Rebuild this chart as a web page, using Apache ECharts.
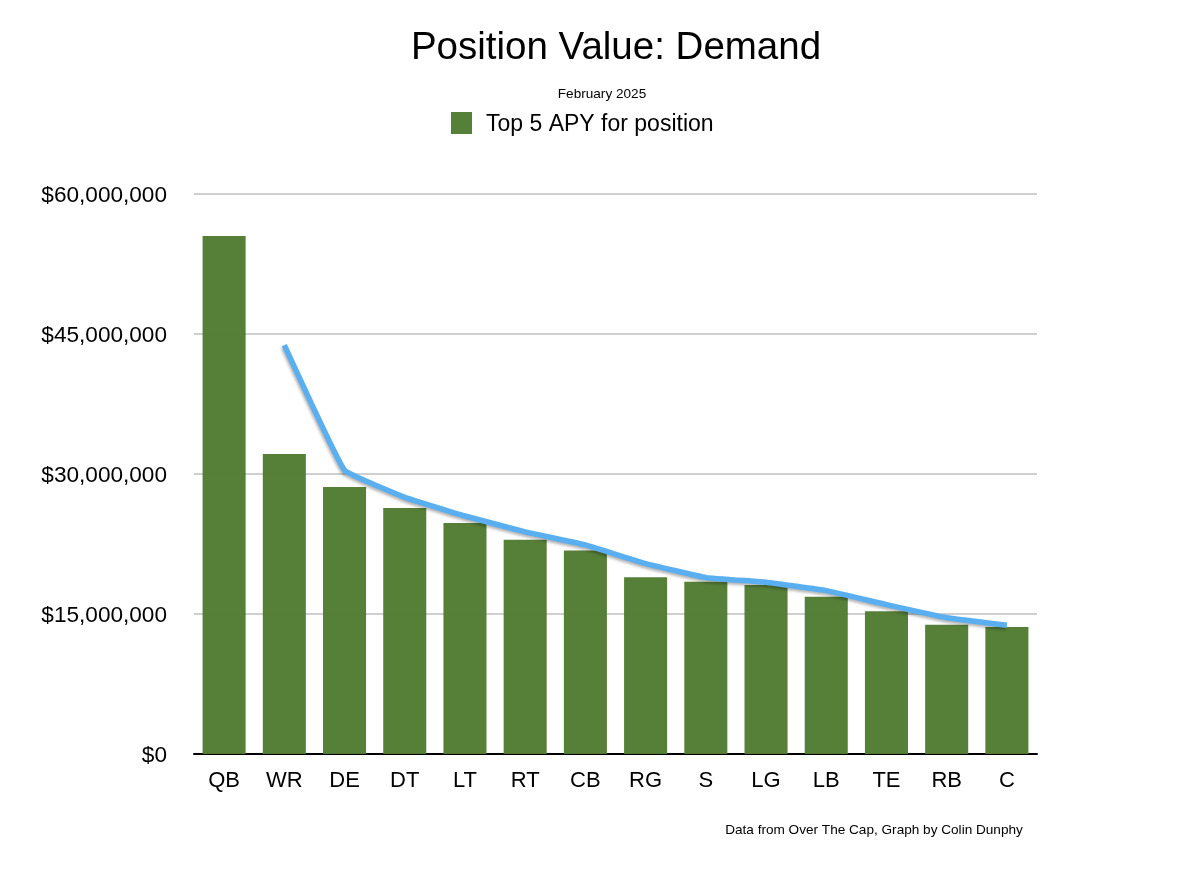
<!DOCTYPE html>
<html>
<head>
<meta charset="utf-8">
<title>Position Value: Demand</title>
<script src="https://cdn.jsdelivr.net/npm/echarts@6/dist/echarts.min.js"></script>
<style>
	html, body { margin: 0; padding: 0; background: #fff; }
	#chart { width: 1200px; height: 877px; }
</style>
</head>
<body>
<div id="chart"></div>
<script>
var positions = ['QB', 'WR', 'DE', 'DT', 'LT', 'RT', 'CB', 'RG', 'S', 'LG', 'LB', 'TE', 'RB', 'C'];
var top5Apy = [55500000, 32150000, 28600000, 26350000, 24750000, 22950000, 21800000, 18950000, 18450000, 18100000, 16850000, 15300000, 13850000, 13600000];
var trendLine = [null, 43800000, 30400000, 27500000, 25500000, 23800000, 22400000, 20400000, 18900000, 18400000, 17500000, 16000000, 14600000, 13800000];

var fontName = '"Liberation Sans", Arial, sans-serif';
var chart = echarts.init(document.getElementById('chart'));

chart.setOption({
	backgroundColor: '#fff',
	animation: false,
	textStyle: { fontFamily: fontName, color: '#000' },
	title: [{
		text: 'Position Value: Demand',
		left: 611,
		top: 24,
		textAlign: 'center',
		textStyle: { fontFamily: fontName, fontSize: 38.5, fontWeight: 'normal', color: '#000' }
	}, {
		text: 'February 2025',
		left: 597,
		top: 82,
		textAlign: 'center',
		textStyle: { fontFamily: fontName, fontSize: 13.6, fontWeight: 'normal', color: '#000' }
	}, {
		text: 'Data from Over The Cap, Graph by Colin Dunphy',
		left: 869,
		top: 818,
		textAlign: 'center',
		textStyle: { fontFamily: fontName, fontSize: 13.6, fontWeight: 'normal', color: '#000' }
	}],
	legend: {
		data: [{ name: 'Top 5 APY for position', icon: 'rect' }],
		left: 446,
		top: 107,
		itemWidth: 21,
		itemHeight: 22,
		formatter: '{a|{name}}',
		textStyle: {
			padding: [0, 0, 0, 9],
			rich: { a: { fontFamily: fontName, fontSize: 23, color: '#000', padding: [4, 0, 0, 0] } }
		}
	},
	grid: { left: 194, right: 163, top: 194, bottom: 123 },
	xAxis: {
		type: 'category',
		data: positions,
		axisLine: { lineStyle: { color: '#000', width: 2 } },
		axisTick: { show: false },
		axisLabel: { color: '#000', fontSize: 22, margin: 16 }
	},
	yAxis: {
		type: 'value',
		min: 0,
		max: 60000000,
		interval: 15000000,
		axisLine: { show: false },
		axisTick: { show: false },
		axisLabel: {
			margin: 27,
			formatter: function (v) {
				return '{a|$' + v.toLocaleString('en-US') + '}';
			},
			rich: { a: { fontFamily: fontName, color: '#000', fontSize: 22.6, padding: [4, 0, 0, 0] } }
		},
		splitLine: { lineStyle: { color: '#bfbfbf', width: 1.5 } }
	},
	series: [{
		name: 'Top 5 APY for position',
		type: 'bar',
		data: top5Apy,
		barWidth: '71.5%',
		itemStyle: { color: '#517b32', opacity: 0.97 }
	}, {
		name: 'Trend',
		type: 'line',
		data: trendLine,
		smooth: 0.08,
		symbol: 'none',
		lineStyle: {
			color: '#5aaff0',
			width: 5.5,
			cap: 'butt',
			shadowColor: 'rgba(0, 0, 0, 0.3)',
			shadowBlur: 3,
			shadowOffsetX: -1,
			shadowOffsetY: 2
		}
	}]
});
</script>
</body>
</html>
